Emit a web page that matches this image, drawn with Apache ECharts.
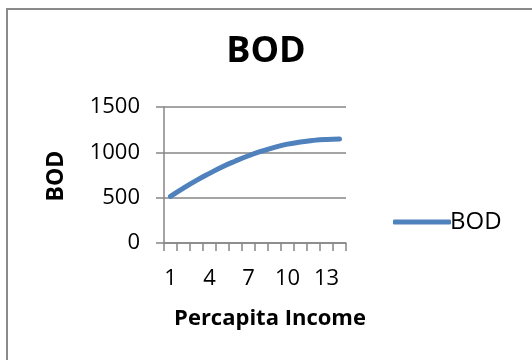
<!DOCTYPE html>
<html>
<head>
<meta charset="utf-8">
<script src="https://cdn.jsdelivr.net/npm/echarts@6/dist/echarts.min.js"></script>
<style>
  html, body { margin: 0; padding: 0; background: #fff; }
  #chart { width: 532px; height: 360px; }
</style>
</head>
<body>
<div id="chart"></div>
<script>
// Per-capita income index (1..14) and the BOD level at each step
const incomeSteps = ['1','2','3','4','5','6','7','8','9','10','11','12','13','14'];
const bodValues = [515, 605, 690, 768, 842, 905, 962, 1012, 1055, 1090, 1115, 1132, 1142, 1146];
const bodTicks = [0, 500, 1000, 1500];

const FONT = '"Open Sans", Lato, sans-serif';
const AXIS_GREY = '#868686';
const LINE_BLUE = '#4F81BD';

const chart = echarts.init(document.getElementById('chart'), null, { renderer: 'canvas' });

chart.setOption({
  animation: false,
  backgroundColor: '#ffffff',
  title: {
    text: 'BOD',
    left: 261, top: 29, textAlign: 'center',
    textStyle: { fontFamily: FONT, fontSize: 36, fontWeight: 'bold', color: '#000' }
  },
  legend: {
    data: [{ name: 'BOD', icon: 'roundRect' }],
    left: 388, top: 205,
    itemWidth: 58, itemHeight: 5, itemGap: 2,
    itemStyle: { color: LINE_BLUE, borderWidth: 0 },
    textStyle: { fontFamily: FONT, fontSize: 24, color: '#000', padding: [0, 0, 0, -6] }
  },
  grid: { left: 164, right: 186, top: 107, bottom: 117 },
  xAxis: {
    type: 'category',
    data: incomeSteps,
    boundaryGap: true,
    axisLine: { lineStyle: { color: AXIS_GREY, width: 1.5 } },
    axisTick: { show: true, length: 8, interval: 0, lineStyle: { color: AXIS_GREY, width: 1.5 } },
    axisLabel: { interval: 2, margin: 25, fontFamily: FONT, fontSize: 22, color: '#000' },
    splitLine: { show: false }
  },
  yAxis: {
    type: 'value',
    min: bodTicks[0],
    max: bodTicks[bodTicks.length - 1],
    interval: 500,
    axisLine: { show: true, lineStyle: { color: AXIS_GREY, width: 1.5 } },
    axisTick: { show: true, length: 8, lineStyle: { color: AXIS_GREY, width: 1.5 } },
    axisLabel: {
      margin: 24, fontFamily: FONT, fontSize: 22, color: '#000',
      formatter: function (v) { return String(v); }
    },
    splitLine: { show: true, lineStyle: { color: AXIS_GREY, width: 1.5 } }
  },
  graphic: [
    {
      type: 'rect',
      shape: { x: 7, y: 9, width: 700, height: 700 },
      style: { fill: 'none', stroke: '#8a8a8a', lineWidth: 2 },
      silent: true, z: -1
    },
    {
      type: 'text',
      x: 270, y: 319,
      style: { text: 'Percapita Income', fontFamily: FONT, fontSize: 22, fontWeight: 'bold', fill: '#000', align: 'center', verticalAlign: 'middle' }
    },
    {
      type: 'text',
      rotation: Math.PI / 2,
      x: 56, y: 176,
      style: { text: 'BOD', fontFamily: FONT, fontSize: 23, fontWeight: 'bold', fill: '#000', align: 'center', verticalAlign: 'middle' }
    }
  ],
  series: [{
    name: 'BOD',
    type: 'line',
    data: bodValues,
    smooth: true,
    symbol: 'none',
    lineStyle: { color: LINE_BLUE, width: 5, cap: 'round' },
    itemStyle: { color: LINE_BLUE }
  }]
});
</script>
</body>
</html>
